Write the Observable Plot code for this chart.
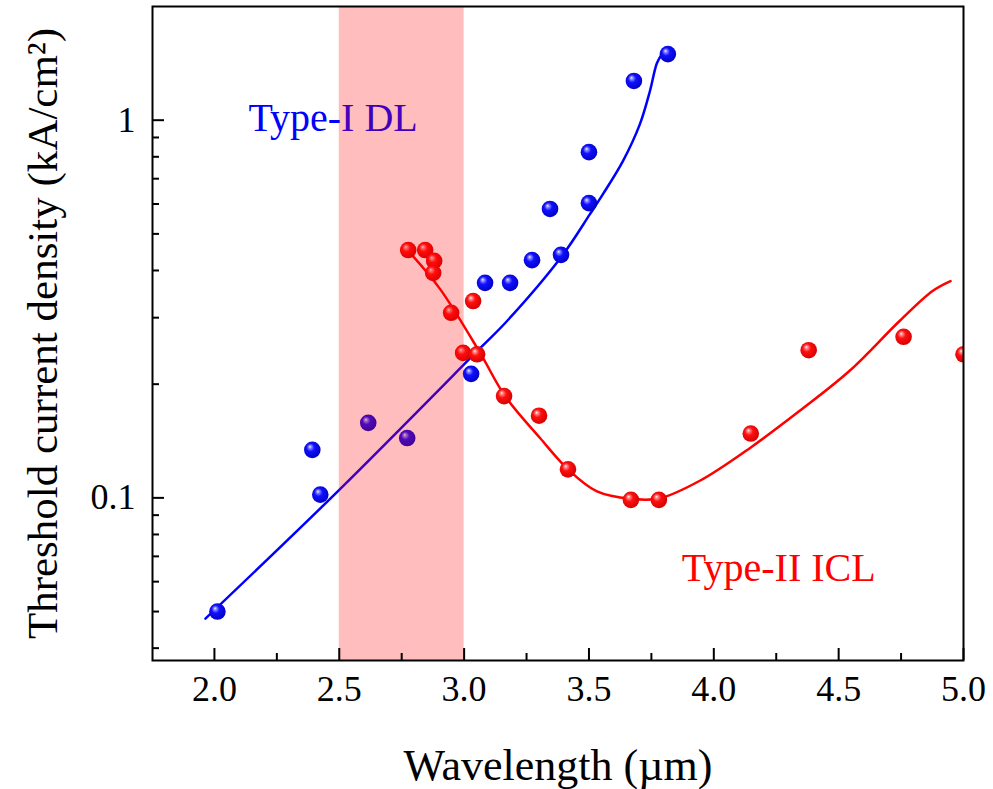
<!DOCTYPE html>
<html><head><meta charset="utf-8">
<script src="https://cdn.jsdelivr.net/npm/d3@7"></script>
<script src="https://cdn.jsdelivr.net/npm/@observablehq/plot@0.6"></script>
<style>body{margin:0;background:#fff} #chart svg{display:block}</style>
</head><body><div id="chart"></div>
<script>
// ---- data ----
const dlWavelength = [2.012, 2.392, 2.424, 2.616, 2.772, 3.028, 3.084, 3.184, 3.272, 3.388, 3.344, 3.50, 3.50, 3.68, 3.816];
const dlThreshold  = [0.050, 0.134, 0.102, 0.158, 0.144, 0.213, 0.371, 0.371, 0.426, 0.440, 0.582, 0.603, 0.823, 1.27, 1.496];
const iclWavelength = [2.776, 2.844, 2.88, 2.876, 2.948, 2.996, 3.036, 3.052, 3.16, 3.30, 3.416, 3.668, 3.78, 4.148, 4.38, 4.76, 5.0];
const iclThreshold  = [0.453, 0.453, 0.424, 0.394, 0.309, 0.242, 0.332, 0.240, 0.186, 0.165, 0.119, 0.0988, 0.0988, 0.148, 0.246, 0.267, 0.240];
const dlFitX = [1.964, 2.50, 3.064, 3.172, 3.392, 3.504, 3.556, 3.636, 3.704, 3.744, 3.772, 3.792];
const dlFitY = [0.0479, 0.105, 0.249, 0.294, 0.437, 0.564, 0.637, 0.779, 0.976, 1.193, 1.415, 1.495];
const iclFitX = [2.784, 2.904, 3.064, 3.164, 3.304, 3.416, 3.532, 3.668, 3.78, 3.944, 4.148, 4.344, 4.544, 4.744, 4.876, 4.948];
const iclFitY = [0.445, 0.357, 0.242, 0.186, 0.144, 0.119, 0.104, 0.0994, 0.0996, 0.111, 0.136, 0.170, 0.217, 0.294, 0.353, 0.375];
const bandRange = [2.5, 3.0];
const labelText = ["Type-I DL", "Type-II ICL"];
const labelX = [2.136, 3.872];
const labelY = [0.935, 0.0603];
const xMajor = [2.0, 2.5, 3.0, 3.5, 4.0, 4.5, 5.0];
const xMinor = [2.25, 2.75, 3.25, 3.75, 4.25, 4.75];
const yMajor = [0.1, 1];
const yMinor = [0.04, 0.05, 0.06, 0.07, 0.08, 0.09, 0.2, 0.3, 0.4, 0.5, 0.6, 0.7, 0.8, 0.9];
const xTitle = "Wavelength (µm)";
const yTitle = "Threshold current density (kA/cm²)";

// ---- build tables ----
const dl = dlWavelength.map((x, i) => ({x, y: dlThreshold[i]}));
const icl = iclWavelength.map((x, i) => ({x, y: iclThreshold[i]}));
const dlFit = dlFitX.map((x, i) => ({x, y: dlFitY[i]}));
const iclFit = iclFitX.map((x, i) => ({x, y: iclFitY[i]}));
const labels = labelText.map((t, i) => ({t, x: labelX[i], y: labelY[i], c: i === 0 ? "#0000ff" : "#ff0000"}));

const W = 993, H = 789;
const mL = 152, mR = 30, mT = 6, mB = 129;
const frameW = W - mL - mR, frameH = H - mT - mB;
const font = "'Liberation Serif', 'Times New Roman', serif";

const svg = Plot.plot({
  width: W, height: H,
  marginLeft: mL, marginRight: mR, marginTop: mT, marginBottom: mB,
  style: {fontFamily: font, background: "#fff", color: "#000"},
  x: {type: "linear", domain: [1.752, 5.0]},
  y: {type: "log", domain: [0.0371, 2.0]},
  marks: [
    Plot.line(dlFit, {x: "x", y: "y", stroke: "#0000ff", strokeWidth: 2.5, curve: "catmull-rom"}),
    Plot.line(iclFit, {x: "x", y: "y", stroke: "#ff0000", strokeWidth: 2.5, curve: "catmull-rom"}),
    Plot.dot(dl, {x: "x", y: "y", r: 8.3, fill: "url(#ballBlue)", stroke: "none"}),
    Plot.dot(icl, {x: "x", y: "y", r: 8.3, fill: "url(#ballRed)", stroke: "none", clip: true}),
    Plot.text(labels, {x: "x", y: "y", text: "t", fill: "c", textAnchor: "start", lineAnchor: "bottom", fontSize: 40}),
    Plot.rect([bandRange], {x1: d => d[0], x2: d => d[1], fill: "#ff0000", fillOpacity: 0.26}),
    Plot.tickX(xMajor, {x: d => d, insetTop: frameH - 12, stroke: "#000", strokeWidth: 2}),
    Plot.tickX(xMinor, {x: d => d, insetTop: frameH - 7, stroke: "#000", strokeWidth: 2}),
    Plot.tickY(yMajor, {y: d => d, insetRight: frameW - 12, stroke: "#000", strokeWidth: 2}),
    Plot.tickY(yMinor, {y: d => d, insetRight: frameW - 7, stroke: "#000", strokeWidth: 2}),
    Plot.axisX(xMajor, {tickSize: 0, tickPadding: 15, tickFormat: d3.format(".1f"), fontSize: 36, label: null, fill: "#000"}),
    Plot.axisY(yMajor, {tickSize: 0, tickPadding: 17, tickFormat: d => String(d), fontSize: 36, label: null, fill: "#000"}),
    Plot.text([xTitle], {frameAnchor: "bottom", dy: 119, textAnchor: "middle", lineAnchor: "bottom", text: d => d, fontSize: 44, fill: "#000"}),
    Plot.text([yTitle], {frameAnchor: "left", dx: -109, rotate: -90, textAnchor: "middle", lineAnchor: "middle", text: d => d, fontSize: 43, fill: "#000"}),
    Plot.frame({stroke: "#000", strokeWidth: 2})
  ]
});

d3.select(svg).insert("defs", ":first-child").html(`
  <radialGradient id="ballBlue" cx="0.45" cy="0.45" r="0.6" fx="0.35" fy="0.3">
    <stop offset="0" stop-color="#f0f0ff"/>
    <stop offset="0.15" stop-color="#8888ff"/>
    <stop offset="0.4" stop-color="#1010ff"/>
    <stop offset="1" stop-color="#0000c0"/>
  </radialGradient>
  <radialGradient id="ballRed" cx="0.45" cy="0.45" r="0.6" fx="0.35" fy="0.3">
    <stop offset="0" stop-color="#fff0f0"/>
    <stop offset="0.15" stop-color="#ff8888"/>
    <stop offset="0.4" stop-color="#ff1010"/>
    <stop offset="1" stop-color="#d00000"/>
  </radialGradient>`);

document.getElementById("chart").appendChild(svg);
</script></body></html>
